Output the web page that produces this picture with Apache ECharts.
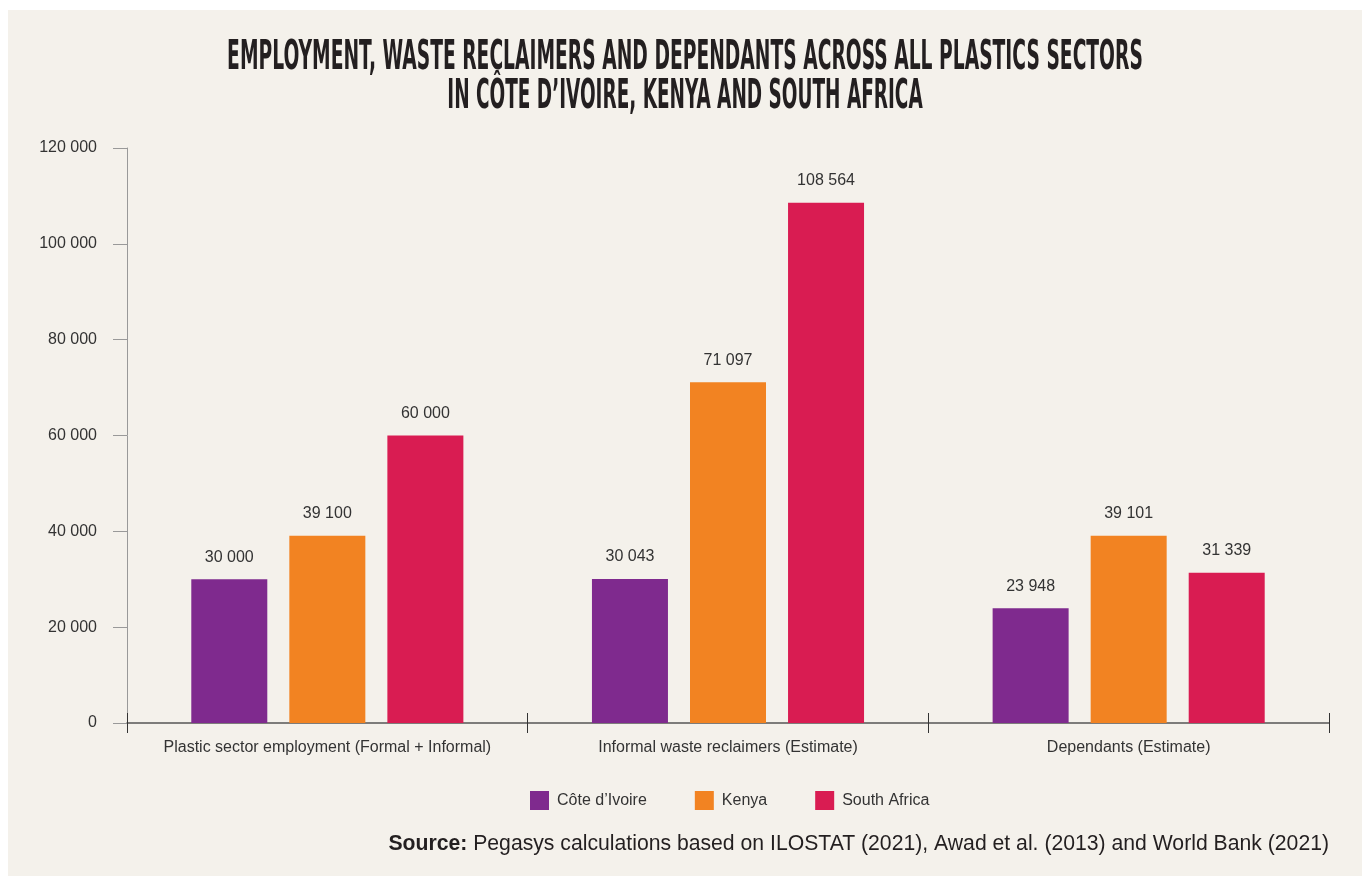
<!DOCTYPE html>
<html>
<head>
<meta charset="utf-8">
<script src="https://cdn.jsdelivr.net/npm/echarts@6/dist/echarts.min.js"></script>
<style>
  html, body { margin: 0; padding: 0; background: #fff; }
  #main { width: 1362px; height: 876px; }
</style>
</head>
<body>
<div id="main"></div>
<script>
var categories = [
    'Plastic sector employment (Formal + Informal)',
    'Informal waste reclaimers (Estimate)',
    'Dependants (Estimate)'
];
var coteDivoire = [30000, 30043, 23948];
var kenya = [39100, 71097, 39101];
var southAfrica = [60000, 108564, 31339];
var countries = ['Côte d\u2019Ivoire', 'Kenya', 'South Africa'];
var colors = ['#7f2a8e', '#f28322', '#d91c52'];

// thousands with a space, like "108 564"
function fmt(v) {
    return String(v).replace(/\B(?=(\d{3})+(?!\d))/g, ' ');
}

var dom = document.getElementById('main');
var myChart = echarts.init(dom);

var labelStyle = {
    show: true,
    position: 'top',
    distance: 14,
    fontFamily: 'Liberation Sans',
    fontSize: 16,
    color: '#333',
    formatter: function (p) { return fmt(p.value); }
};

function bar(name, data, color) {
    return {
        name: name,
        type: 'bar',
        data: data,
        barWidth: 76,
        barGap: '29%',
        itemStyle: { color: color },
        label: labelStyle
    };
}

var option = {
    backgroundColor: '#fff',
    color: colors,
    textStyle: { fontFamily: 'Liberation Sans' },
    graphic: [
        {
            type: 'rect',
            z: -10,
            shape: { x: 8, y: 10, width: 1354, height: 866 },
            style: { fill: '#f4f1eb' }
        },
        {
            type: 'text',
            x: 685, y: 58,
            scaleX: 0.507,
            style: {
                text: 'EMPLOYMENT, WASTE RECLAIMERS AND DEPENDANTS ACROSS ALL PLASTICS SECTORS',
                font: 'bold 41px "DejaVu Sans Condensed"',
                fill: '#231f20',
                align: 'center',
                verticalAlign: 'middle'
            }
        },
        {
            type: 'text',
            x: 685, y: 97,
            scaleX: 0.5,
            style: {
                text: 'IN CÔTE D\u2019IVOIRE, KENYA AND SOUTH AFRICA',
                font: 'bold 41px "DejaVu Sans Condensed"',
                fill: '#231f20',
                align: 'center',
                verticalAlign: 'middle'
            }
        },
        {
            type: 'text',
            x: 1329, y: 844,
            style: {
                text: '{b|Source:} Pegasys calculations based on ILOSTAT (2021), Awad et al. (2013) and World Bank (2021)',
                rich: {
                    b: { fontWeight: 'bold', fontSize: 21.2, fontFamily: 'Liberation Sans', fill: '#231f20' }
                },
                fontSize: 21.2,
                fontFamily: 'Liberation Sans',
                fill: '#231f20',
                align: 'right',
                verticalAlign: 'middle'
            }
        }
    ],
    legend: {
        left: 525,
        top: 786,
        itemWidth: 19,
        itemHeight: 19,
        itemGap: 48,
        icon: 'rect',
        data: countries,
        textStyle: { fontSize: 16, color: '#333', padding: [0, 0, 0, 3] }
    },
    grid: { left: 127, right: 33, top: 148, bottom: 153, containLabel: false },
    xAxis: [
        {
            type: 'category',
            data: categories,
            axisLine: { lineStyle: { color: '#555', width: 1.5 } },
            axisTick: { show: true, interval: 0, length: 10, lineStyle: { color: '#333' } },
            axisLabel: { interval: 0, fontSize: 16, color: '#333', margin: 17 }
        },
        {
            type: 'category',
            data: categories,
            position: 'bottom',
            axisLine: { show: false },
            axisTick: { show: true, interval: 0, inside: true, length: 10, lineStyle: { color: '#333' } },
            axisLabel: { show: false }
        }
    ],
    yAxis: {
        type: 'value',
        min: 0,
        max: 120000,
        interval: 20000,
        axisLine: { show: true, lineStyle: { color: '#999' } },
        axisTick: { show: true, length: 14, lineStyle: { color: '#999' } },
        splitLine: { show: false },
        axisLabel: {
            fontSize: 16,
            color: '#333',
            margin: 30,
            formatter: function (v) { return fmt(v); }
        }
    },
    series: [
        bar(countries[0], coteDivoire, colors[0]),
        bar(countries[1], kenya, colors[1]),
        bar(countries[2], southAfrica, colors[2])
    ]
};

myChart.setOption(option);
</script>
</body>
</html>
